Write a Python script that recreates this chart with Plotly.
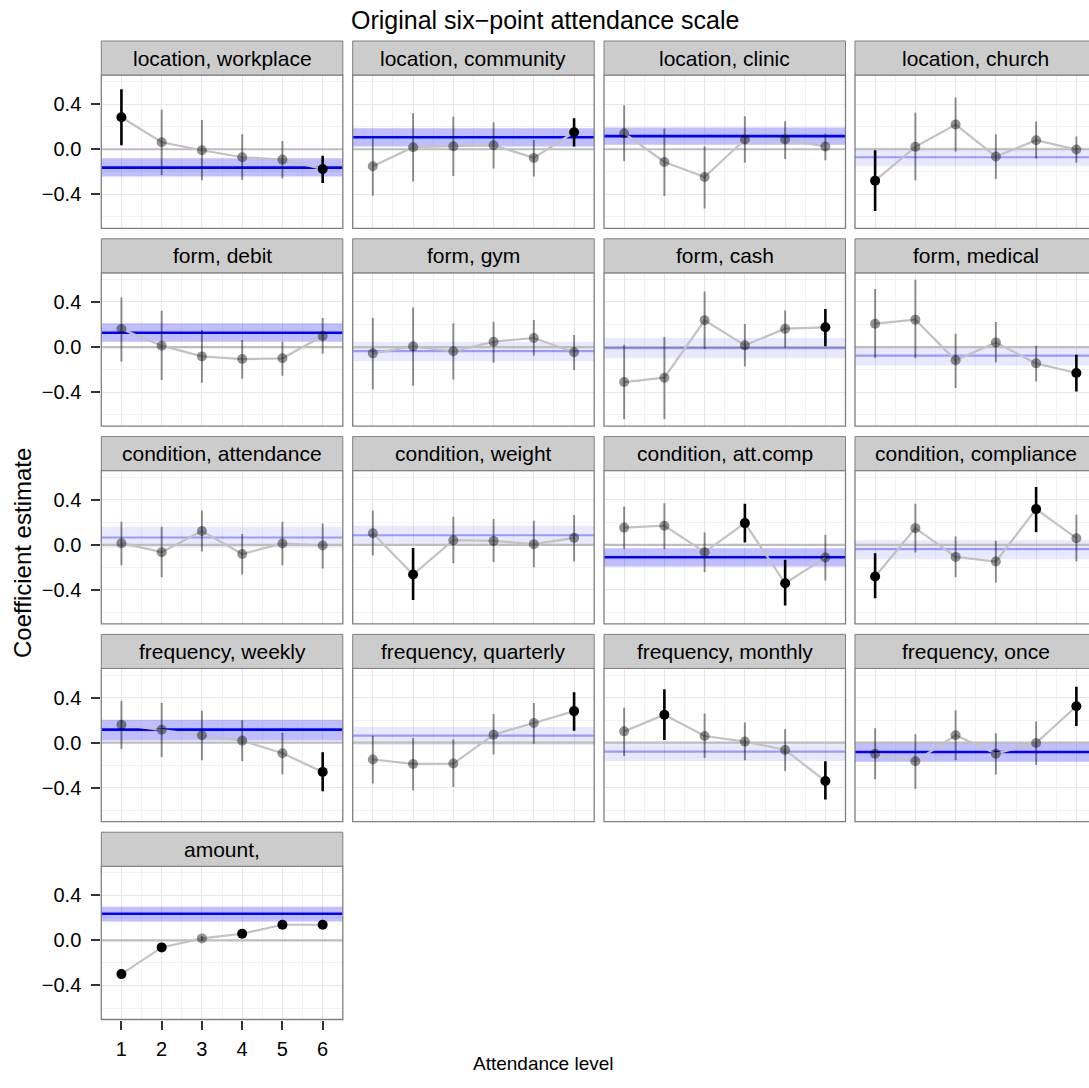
import plotly.graph_objects as go

# ---------------- data ----------------
levels = [1, 2, 3, 4, 5, 6]
panel_names = [
    "location, workplace", "location, community", "location, clinic", "location, church",
    "form, debit", "form, gym", "form, cash", "form, medical",
    "condition, attendance", "condition, weight", "condition, att.comp", "condition, compliance",
    "frequency, weekly", "frequency, quarterly", "frequency, monthly", "frequency, once",
    "amount,",
]
est = [
    [0.284, 0.062, -0.009, -0.071, -0.092, -0.175],
    [-0.151, 0.018, 0.027, 0.036, -0.077, 0.151],
    [0.142, -0.113, -0.246, 0.086, 0.086, 0.024],
    [-0.279, 0.021, 0.219, -0.065, 0.080, -0.003],
    [0.160, 0.012, -0.083, -0.107, -0.100, 0.098],
    [-0.056, 0.006, -0.038, 0.047, 0.080, -0.047],
    [-0.311, -0.272, 0.237, 0.015, 0.163, 0.175],
    [0.207, 0.243, -0.118, 0.041, -0.145, -0.231],
    [0.015, -0.065, 0.123, -0.082, 0.012, -0.006],
    [0.103, -0.264, 0.041, 0.035, 0.006, 0.062],
    [0.153, 0.170, -0.065, 0.193, -0.341, -0.113],
    [-0.281, 0.148, -0.107, -0.148, 0.317, 0.059],
    [0.159, 0.115, 0.065, 0.018, -0.094, -0.260],
    [-0.150, -0.189, -0.186, 0.071, 0.174, 0.280],
    [0.100, 0.248, 0.059, 0.009, -0.065, -0.341],
    [-0.098, -0.166, 0.065, -0.098, -0.003, 0.323],
    [-0.299, -0.062, 0.018, 0.059, 0.139, 0.139],
]
ci_low = [
    [0.036, -0.228, -0.276, -0.273, -0.260, -0.300],
    [-0.412, -0.287, -0.237, -0.172, -0.243, 0.024],
    [-0.107, -0.415, -0.527, -0.121, -0.086, -0.098],
    [-0.548, -0.276, -0.021, -0.264, -0.083, -0.121],
    [-0.130, -0.293, -0.317, -0.281, -0.254, -0.059],
    [-0.376, -0.343, -0.290, -0.139, -0.077, -0.204],
    [-0.639, -0.639, -0.018, -0.172, -0.005, 0.006],
    [-0.098, -0.100, -0.364, -0.136, -0.305, -0.394],
    [-0.182, -0.287, -0.059, -0.264, -0.182, -0.211],
    [-0.094, -0.490, -0.164, -0.152, -0.199, -0.147],
    [-0.035, -0.038, -0.243, 0.021, -0.539, -0.317],
    [-0.474, -0.068, -0.287, -0.335, 0.113, -0.148],
    [-0.056, -0.127, -0.156, -0.165, -0.280, -0.431],
    [-0.363, -0.425, -0.395, -0.106, -0.009, 0.106],
    [-0.118, 0.024, -0.136, -0.157, -0.252, -0.504],
    [-0.326, -0.410, -0.154, -0.282, -0.199, 0.148],
    [-0.319, -0.082, -0.002, 0.039, 0.119, 0.119],
]
ci_high = [
    [0.533, 0.350, 0.260, 0.133, 0.074, -0.059],
    [0.092, 0.320, 0.290, 0.240, 0.083, 0.276],
    [0.390, 0.184, 0.027, 0.293, 0.249, 0.139],
    [-0.009, 0.323, 0.459, 0.133, 0.246, 0.113],
    [0.440, 0.322, 0.151, 0.062, 0.047, 0.257],
    [0.260, 0.352, 0.210, 0.225, 0.240, 0.107],
    [0.021, 0.089, 0.494, 0.204, 0.325, 0.337],
    [0.515, 0.598, 0.118, 0.222, 0.012, -0.068],
    [0.205, 0.161, 0.305, 0.097, 0.205, 0.190],
    [0.305, -0.029, 0.249, 0.229, 0.214, 0.264],
    [0.340, 0.370, 0.110, 0.364, -0.133, 0.089],
    [-0.074, 0.364, 0.074, 0.036, 0.513, 0.267],
    [0.372, 0.351, 0.283, 0.198, 0.086, -0.086],
    [0.062, 0.041, 0.027, 0.254, 0.351, 0.448],
    [0.310, 0.474, 0.258, 0.178, 0.118, -0.166],
    [0.127, 0.074, 0.288, 0.083, 0.187, 0.495],
    [-0.279, -0.042, 0.038, 0.079, 0.159, 0.159],
]
pooled_est = [-0.163, 0.107, 0.116, -0.071, 0.127, -0.036, -0.010, -0.077,
              0.065, 0.085, -0.110, -0.039, 0.115, 0.062, -0.080, -0.083, 0.237]
pooled_low = [-0.243, 0.024, 0.039, -0.151, 0.047, -0.127, -0.100, -0.163,
              -0.023, -0.006, -0.193, -0.127, 0.018, -0.021, -0.163, -0.169, 0.169]
pooled_high = [-0.080, 0.187, 0.193, 0.015, 0.210, 0.044, 0.080, 0.006,
               0.161, 0.170, -0.030, 0.041, 0.204, 0.139, 0.003, -0.003, 0.299]
y_ticks = [-0.4, 0.0, 0.4]
y_tick_text = ["\u22120.4", "0.0", "0.4"]

title_text = "Original six\u2212point attendance scale"
x_title = "Attendance level"
y_title = "Coefficient estimate"

# ---------------- layout geometry (pixels) ----------------
W, H = 1089, 1088
FONT = "Liberation Sans, Arial, Helvetica, sans-serif"
col_left = [101.3, 352.7, 604.0, 855.0]
panel_w = 241.5
row_top0, row_pitch = 41.0, 197.8
strip_h, panel_bottom_off = 34.0, 187.3
x_lo, x_hi = 0.5, 6.5
y_range = [-0.702, 0.659]

fig = go.Figure()
shapes, annotations = [], []

for i, name in enumerate(panel_names):
    r, c = divmod(i, 4)
    k = "" if i == 0 else str(i + 1)
    xa, ya = "x" + k, "y" + k
    L = col_left[c]
    R = L + panel_w
    top = row_top0 + r * row_pitch
    ptop = top + strip_h
    pbot = top + panel_bottom_off
    xr_hi = x_hi if R <= W else x_lo + (W - L) / panel_w * (x_hi - x_lo)
    R_eff = min(R, W)
    show_x = (i == len(panel_names) - 1)
    show_y = (c == 0)

    fig.update_layout({
        "xaxis" + k: dict(
            domain=[L / W, R_eff / W], range=[x_lo, xr_hi], anchor=ya,
            tickmode="array", tickvals=levels, ticktext=[str(v) for v in levels],
            showticklabels=show_x, ticks="outside" if show_x else "",
            ticklen=9, tickwidth=1.8, tickcolor="#333333",
            tickfont=dict(size=20, color="#000000", family=FONT),
            ticklabelstandoff=2,
            showgrid=True, gridcolor="#e6e6e6", gridwidth=1,
            minor=dict(tickvals=[1.5, 2.5, 3.5, 4.5, 5.5], showgrid=True,
                       gridcolor="#f2f2f2", gridwidth=1),
            zeroline=False, showline=False, fixedrange=True,
        ),
        "yaxis" + k: dict(
            domain=[1 - pbot / H, 1 - ptop / H], range=y_range, anchor=xa,
            tickmode="array", tickvals=y_ticks, ticktext=y_tick_text,
            showticklabels=show_y, ticks="outside" if show_y else "",
            ticklen=9, tickwidth=1.8, tickcolor="#333333",
            tickfont=dict(size=20, color="#000000", family=FONT),
            ticklabelstandoff=6,
            showgrid=True, gridcolor="#e6e6e6", gridwidth=1,
            minor=dict(tickvals=[-0.6, -0.2, 0.2, 0.6], showgrid=True,
                       gridcolor="#f2f2f2", gridwidth=1),
            zeroline=False, showline=False, fixedrange=True,
        ),
    })

    # pooled estimate band, zero line, pooled line (span the full x range)
    p_sig = pooled_low[i] > 0 or pooled_high[i] < 0
    span = [x_lo - 1, x_hi + 1]
    fig.add_trace(go.Scatter(
        x=[span[0], span[1], span[1], span[0]],
        y=[pooled_low[i], pooled_low[i], pooled_high[i], pooled_high[i]],
        fill="toself", mode="none", xaxis=xa, yaxis=ya, hoverinfo="skip", showlegend=False,
        fillcolor="rgba(0,0,255,0.25)" if p_sig else "rgba(0,0,255,0.09)"))
    fig.add_trace(go.Scatter(
        x=span, y=[0, 0], mode="lines", xaxis=xa, yaxis=ya, hoverinfo="skip", showlegend=False,
        line=dict(color="#bdbdbd", width=2.2)))
    fig.add_trace(go.Scatter(
        x=span, y=[pooled_est[i], pooled_est[i]], mode="lines", xaxis=xa, yaxis=ya,
        hoverinfo="skip", showlegend=False,
        line=dict(color="#0000ff" if p_sig else "rgba(0,0,255,0.33)",
                  width=2.6 if p_sig else 2.2)))

    # connecting line
    fig.add_trace(go.Scatter(x=levels, y=est[i], mode="lines", xaxis=xa, yaxis=ya,
                             line=dict(color="#c2c2c2", width=2.2), hoverinfo="skip",
                             showlegend=False))
    sig = [(lo > 0 or hi < 0) for lo, hi in zip(ci_low[i], ci_high[i])]
    for is_sig in (False, True):
        idx = [j for j in range(6) if sig[j] == is_sig]
        if not idx:
            continue
        xs = [levels[j] for j in idx]
        ys = [est[i][j] for j in idx]
        up = [ci_high[i][j] - est[i][j] for j in idx]
        dn = [est[i][j] - ci_low[i][j] for j in idx]
        col = "#000000" if is_sig else "rgba(0,0,0,0.42)"
        fig.add_trace(go.Scatter(
            x=xs, y=ys, mode="markers", xaxis=xa, yaxis=ya, showlegend=False,
            marker=dict(size=10, color=col, line=dict(width=0)),
            error_y=dict(type="data", array=up, arrayminus=dn, visible=True,
                         color=col, thickness=2.6 if is_sig else 2.0, width=0),
        ))

    # panel border
    shapes.append(dict(type="rect", xref="paper", yref="paper",
                       x0=L / W, x1=R / W, y0=1 - pbot / H, y1=1 - ptop / H,
                       line=dict(color="#7f7f7f", width=1.3), fillcolor="rgba(0,0,0,0)",
                       layer="above"))
    # strip
    shapes.append(dict(type="rect", xref="paper", yref="paper",
                       x0=L / W, x1=R / W, y0=1 - ptop / H, y1=1 - top / H,
                       fillcolor="#cccccc", line=dict(color="#7f7f7f", width=1.0),
                       layer="above"))
    annotations.append(dict(text=name, xref="paper", yref="paper",
                            x=(L + R) / 2 / W, y=1 - (top + strip_h / 2) / H,
                            xanchor="center", yanchor="middle", showarrow=False,
                            font=dict(size=21, color="#000000", family=FONT)))

annotations.append(dict(text=title_text, xref="paper", yref="paper", x=545 / W, y=1 - 20 / H,
                        xanchor="center", yanchor="middle", showarrow=False,
                        font=dict(size=25, color="#000000", family=FONT)))
annotations.append(dict(text=x_title, xref="paper", yref="paper", x=543 / W, y=1 - 1063 / H,
                        xanchor="center", yanchor="middle", showarrow=False,
                        font=dict(size=19, color="#000000", family=FONT)))
annotations.append(dict(text=y_title, xref="paper", yref="paper", x=22 / W, y=1 - 553 / H,
                        xanchor="center", yanchor="middle", showarrow=False, textangle=-90,
                        font=dict(size=24, color="#000000", family=FONT)))

fig.update_layout(width=W, height=H, autosize=False,
                  margin=dict(l=0, r=0, t=0, b=0, pad=0),
                  paper_bgcolor="white", plot_bgcolor="white",
                  shapes=shapes, annotations=annotations, showlegend=False,
                  font=dict(family=FONT))
fig.write_html("out.html", config={"displayModeBar": False},
               post_script="document.body.style.margin='0';")
